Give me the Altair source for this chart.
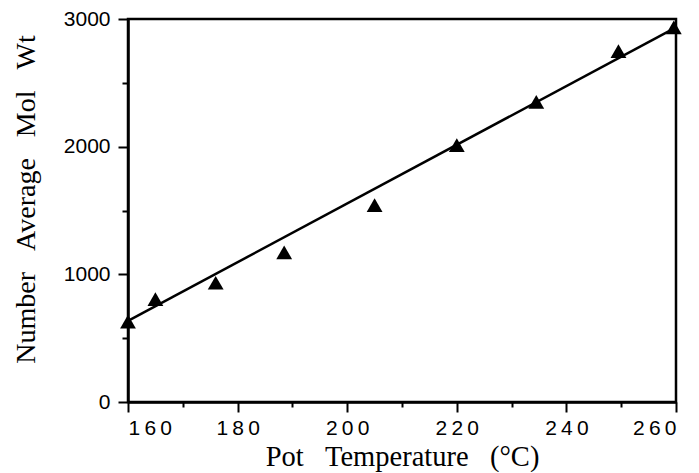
import altair as alt
import pandas as pd

temp = [160, 165, 176, 188.5, 205, 220, 234.5, 249.5, 259.6]
mol_wt = [630, 806, 934, 1172, 1542, 2012, 2351, 2748, 2934]

# Fitted straight line endpoints
fit_temp = [160, 260]
fit_mw = [635, 2935]

x_ticks = [160, 170, 180, 190, 200, 210, 220, 230, 240, 250, 260]
y_ticks = [0, 500, 1000, 1500, 2000, 2500, 3000]

pts = pd.DataFrame({"temp": temp, "mw": mol_wt})
fit = pd.DataFrame({"temp": fit_temp, "mw": fit_mw})

x_scale = alt.Scale(domain=[160, 260], nice=False, zero=False)
y_scale = alt.Scale(domain=[0, 3000], nice=False)

GAP = " \u2002"

x_axis = alt.Axis(
    values=x_ticks,
    title="Pot" + GAP + "Temperature" + GAP + "(°C)",
    labelExpr="datum.value % 20 === 0 ? join(split(datum.label, ''), '\u2009') : ''",
    tickSize={"condition": {"test": "datum.value % 20 === 0", "value": 10}, "value": 5},
    labelPadding=5,
    labelFont="Liberation Sans",
    labelFontSize=21,
    labelColor="black",
    titleFont="Liberation Serif",
    titleFontSize=28.5,
    titleFontWeight="normal",
    titleColor="black",
    titleBaseline="alphabetic",
    titleY=63,
    grid=False,
    domainColor="black",
    domainWidth=2.5,
    tickColor="black",
    tickWidth=2,
)

y_axis = alt.Axis(
    values=y_ticks,
    title="Number" + GAP + "Average" + GAP + "Mol" + GAP + "Wt",
    labelExpr="datum.value % 1000 === 0 ? datum.label : ''",
    format="d",
    tickSize={"condition": {"test": "datum.value % 1000 === 0", "value": 10}, "value": 6},
    labelPadding=8,
    labelFont="Liberation Sans",
    labelFontSize=21,
    labelColor="black",
    titleFont="Liberation Serif",
    titleFontSize=28,
    titleFontWeight="normal",
    titleColor="black",
    titleBaseline="alphabetic",
    titleAngle=-90,
    titleX=-94,
    titleY=180,
    grid=False,
    domainColor="black",
    domainWidth=2.5,
    tickColor="black",
    tickWidth=2,
)

line = alt.Chart(fit).mark_line(color="black", strokeWidth=2.5).encode(
    x=alt.X("temp:Q", scale=x_scale, axis=x_axis),
    y=alt.Y("mw:Q", scale=y_scale, axis=y_axis),
)

points = alt.Chart(pts).mark_point(
    shape="triangle-up", filled=True, color="black", opacity=1, size=250
).encode(
    x=alt.X("temp:Q", scale=x_scale, axis=x_axis),
    y=alt.Y("mw:Q", scale=y_scale, axis=y_axis),
)

chart = (
    alt.layer(line, points)
    .properties(
        width=548,
        height=383,
        autosize=alt.AutoSizeParams(type="none"),
        padding={"left": 120, "top": 11, "right": 15, "bottom": 70},
        background="white",
    )
    .configure_view(stroke="black", strokeWidth=2.5)
)

chart.save("out.html", embed_options={"renderer": "svg", "actions": False})
